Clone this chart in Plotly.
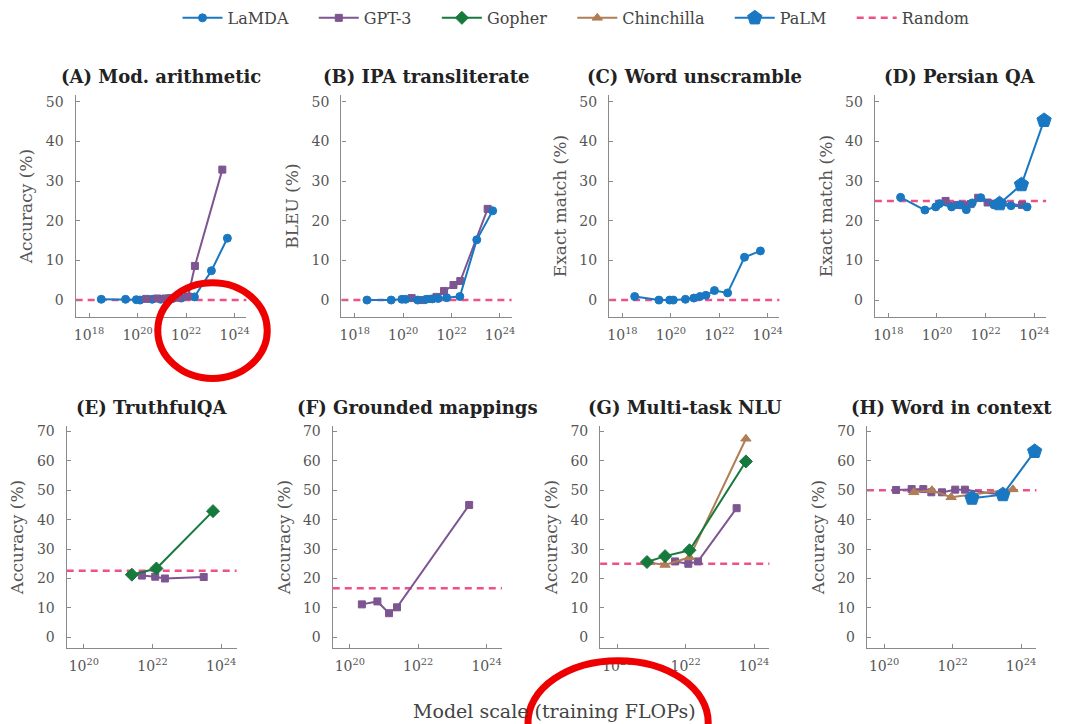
import math
import plotly.graph_objects as go

W, H = 1066, 724

# ---------------- data ----------------
# training FLOPs of each model size
LAMDA_FLOPS = [3.2e18, 3.2e19, 8.9e19, 1.26e20, 4.0e20, 8.9e20, 1.6e21, 2.8e21, 6.3e21, 2.2e22, 1.1e23, 5.0e23]
GPT3_FLOPS = [2.25e20, 6.4e20, 1.4e21, 2.4e21, 4.9e21, 1.2e22, 2.3e22, 3.1e23]
GOPHER_FLOPS = [7.4e20, 2.5e21, 1.3e22, 5.8e23]
CHINCHILLA_FLOPS = [7.4e20, 2.5e21, 9.1e21, 1.3e22, 5.8e23]
PALM_FLOPS = [3.7e22, 2.95e23, 2.5e24]

PANEL_TITLES = ["(A) Mod. arithmetic", "(B) IPA transliterate", "(C) Word unscramble", "(D) Persian QA",
                "(E) TruthfulQA", "(F) Grounded mappings", "(G) Multi-task NLU", "(H) Word in context"]
Y_TITLES = ["Accuracy (%)", "BLEU (%)", "Exact match (%)", "Exact match (%)",
            "Accuracy (%)", "Accuracy (%)", "Accuracy (%)", "Accuracy (%)"]
RANDOM = [0, 0, 0, 25, 22.6, 16.7, 25, 50]

A_LAMDA = [0.2, 0.2, 0.1, 0.0, 0.2, 0.2, 0.3, 0.4, 0.5, 0.8, 7.4, 15.6]
A_GPT3 = [0.3, 0.4, 0.4, 0.5, 0.6, 0.9, 8.6, 32.9]
B_LAMDA = [0.0, 0.0, 0.2, 0.2, 0.0, 0.2, 0.3, 0.4, 0.6, 0.9, 15.2, 22.5]
B_GPT3 = [0.5, 0.0, 0.3, 0.8, 2.3, 3.8, 4.8, 23.0]
C_LAMDA = [0.9, 0.0, 0.0, 0.0, 0.2, 0.5, 0.9, 1.2, 2.4, 1.8, 10.8, 12.4]
D_LAMDA = [25.9, 22.7, 23.5, 24.3, 23.5, 24.0, 22.8, 24.5, 25.8, 24.0, 23.8, 23.5]
D_GPT3 = [25.0, 24.0, 23.9, 24.2, 25.8, 24.6, 24.3, 24.0]
D_PALM = [24.3, 29.1, 45.3]
E_GPT3 = [None, None, None, None, 21.0, 20.6, 20.0, 20.5]
E_GOPHER = [None, 21.3, 23.4, 42.9]
F_GPT3 = [11.2, 12.2, 8.2, 10.2, None, None, None, 45.0]
G_GPT3 = [None, None, None, None, 25.8, 25.0, 25.8, 43.9]
G_GOPHER = [25.6, 27.6, 29.6, 59.8]
G_CHINCHILLA = [25.5, 24.6, None, 27.2, 67.5]
H_GPT3 = [50.1, 50.4, 50.4, 49.3, 49.3, 50.2, 50.2, 48.4]
H_CHINCHILLA = [49.3, 50.0, 47.6, None, 50.3]
H_PALM = [47.3, 48.5, 63.2]

ROW1_XTICKS = [1e18, 1e20, 1e22, 1e24]
ROW2_XTICKS = [1e20, 1e22, 1e24]
ROW1_YTICKS = [0, 10, 20, 30, 40, 50]
ROW2_YTICKS = [0, 10, 20, 30, 40, 50, 60, 70]

# ---------------- styles ----------------
FONT = "DejaVu Serif"
BLUE = "#1a78c2"
PURPLE = "#7d5591"
GREEN = "#167a3d"
BROWN = "#b07d56"
PINK = "#f0508a"
AXIS = "#8a8a8a"
TICKTXT = "#555555"

MODELS = {
    "LaMDA": dict(x=LAMDA_FLOPS, color=BLUE, symbol="circle", size=8, rank=1),
    "GPT-3": dict(x=GPT3_FLOPS, color=PURPLE, symbol="square", size=7, rank=2),
    "Gopher": dict(x=GOPHER_FLOPS, color=GREEN, symbol="diamond", size=10, rank=3),
    "Chinchilla": dict(x=CHINCHILLA_FLOPS, color=BROWN, symbol="triangle-up", size=9, rank=4),
    "PaLM": dict(x=PALM_FLOPS, color=BLUE, symbol="pentagon", size=15, rank=5),
}

PANEL_SERIES = [
    [("LaMDA", A_LAMDA), ("GPT-3", A_GPT3)],
    [("GPT-3", B_GPT3), ("LaMDA", B_LAMDA)],
    [("LaMDA", C_LAMDA)],
    [("GPT-3", D_GPT3), ("LaMDA", D_LAMDA), ("PaLM", D_PALM)],
    [("GPT-3", E_GPT3), ("Gopher", E_GOPHER)],
    [("GPT-3", F_GPT3)],
    [("GPT-3", G_GPT3), ("Chinchilla", G_CHINCHILLA), ("Gopher", G_GOPHER)],
    [("GPT-3", H_GPT3), ("Chinchilla", H_CHINCHILLA), ("PaLM", H_PALM)],
]

# panel placement in pixels (left, right) and rows (top, bottom)
PANEL_X = [(74, 245.5), (341, 512), (610, 781), (877, 1049),
           (65, 235.7), (332.3, 502.3), (601, 771), (869, 1039.3)]
ROW_Y = [(93.3, 316), (425, 648)]

fig = go.Figure()
shown = set()
NBSP = "\u00a0" * 4

for i in range(8):
    n = i + 1
    xa = "x" if n == 1 else f"x{n}"
    ya = "y" if n == 1 else f"y{n}"
    for name, vals in PANEL_SERIES[i]:
        m = MODELS[name]
        fig.add_trace(go.Scatter(
            x=m["x"], y=vals, xaxis=xa, yaxis=ya, mode="lines+markers",
            name=name + NBSP, legendgroup=name, legendrank=m["rank"],
            showlegend=name not in shown, connectgaps=True, cliponaxis=False,
            line=dict(color=m["color"], width=2),
            marker=dict(color=m["color"], symbol=m["symbol"], size=m["size"],
                        line=dict(color=m["color"], width=1)),
        ))
        shown.add(name)

# legend entry for the random baseline
fig.add_trace(go.Scatter(x=[None], y=[None], mode="lines", name="Random", legendrank=6,
                         line=dict(color=PINK, width=2.5, dash="7px,5px")))

layout = {}
shapes = []
annotations = []
for i in range(8):
    n = i + 1
    row = 0 if i < 4 else 1
    l, r = PANEL_X[i]
    t, b = ROW_Y[row]
    xkey = "xaxis" if n == 1 else f"xaxis{n}"
    ykey = "yaxis" if n == 1 else f"yaxis{n}"
    xticks = ROW1_XTICKS if row == 0 else ROW2_XTICKS
    yticks = ROW1_YTICKS if row == 0 else ROW2_YTICKS
    layout[xkey] = dict(
        type="log", domain=[l / W, r / W], anchor="y" if n == 1 else f"y{n}",
        range=[17.45, 24.48] if row == 0 else [19.5, 24.45],
        tickvals=xticks,
        ticktext=["10<sup>%d</sup>" % round(math.log10(v)) for v in xticks],
        showline=True, linecolor=AXIS, linewidth=1.3,
        ticks="inside", ticklen=4, tickcolor=AXIS, tickwidth=1,
        showgrid=False, zeroline=False, ticklabelstandoff=5,
        tickfont=dict(family=FONT, size=14, color=TICKTXT),
    )
    layout[ykey] = dict(
        domain=[1 - b / H, 1 - t / H], anchor="x" if n == 1 else f"x{n}",
        range=[-4.3, 51.7] if row == 0 else [-3.7, 71.9],
        tickvals=yticks,
        showline=True, linecolor=AXIS, linewidth=1.3,
        ticks="inside", ticklen=4, tickcolor=AXIS, tickwidth=1,
        showgrid=False, zeroline=False, ticklabelstandoff=8,
        tickfont=dict(family=FONT, size=14, color=TICKTXT),
        title=dict(text=Y_TITLES[i], font=dict(family=FONT, size=17, color="#555555"), standoff=8),
    )
    shapes.append(dict(type="line", xref=f"{'x' if n == 1 else 'x%d' % n} domain",
                       yref="y" if n == 1 else f"y{n}", x0=0, x1=1, y0=RANDOM[i], y1=RANDOM[i],
                       line=dict(color=PINK, width=2.5, dash="7px,5px"), layer="below"))
    annotations.append(dict(text="<b>%s</b>" % PANEL_TITLES[i], xref="paper", yref="paper",
                            x=(l + r) / 2 / W, y=1 - (75 if row == 0 else 407) / H,
                            xanchor="center", yanchor="middle", showarrow=False,
                            font=dict(family=FONT, size=18, color="#222222")))

annotations.append(dict(text="Model scale (training FLOPs)", xref="paper", yref="paper",
                        x=555 / W, y=1 - 711 / H, xanchor="center", yanchor="middle",
                        showarrow=False, font=dict(family=FONT, size=19, color="#444444")))

# red highlight ellipses
shapes.append(dict(type="circle", xref="paper", yref="paper",
                   x0=156.5 / W, x1=266.5 / W, y0=1 - 377.5 / H, y1=1 - 281.5 / H,
                   line=dict(color="#ee0000", width=7), layer="above"))
shapes.append(dict(type="circle", xref="paper", yref="paper",
                   x0=528.5 / W, x1=709.5 / W, y0=1 - 783.5 / H, y1=1 - 660.5 / H,
                   line=dict(color="#ee0000", width=7), layer="above"))

fig.update_layout(
    width=W, height=H, margin=dict(l=0, r=0, t=0, b=0),
    paper_bgcolor="white", plot_bgcolor="white",
    shapes=shapes, annotations=annotations,
    legend=dict(orientation="h", x=0.541, xanchor="center", y=1 - 16 / H, yanchor="middle",
                font=dict(family=FONT, size=16, color="#444444"), bgcolor="rgba(0,0,0,0)",
                itemwidth=40),
    **layout,
)

fig.write_html("out.html", config={"displayModeBar": False},
               post_script="document.body.style.margin='0';document.body.style.overflow='hidden';")
